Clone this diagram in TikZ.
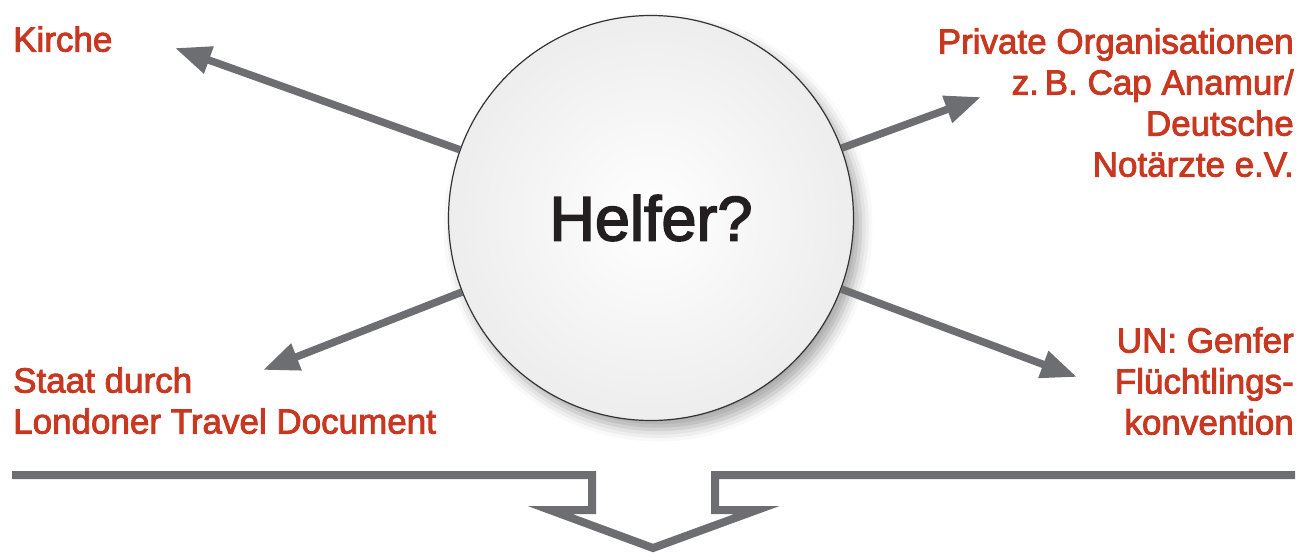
\documentclass[tikz,border=0pt]{standalone}
\usepackage{fontspec}
\setmainfont{Liberation Sans}
\newfontfamily\medfont{Liberation Sans}[FakeBold=2.5]
\usetikzlibrary{arrows.meta,shadows.blur}
\definecolor{helfergray}{RGB}{109,110,113}
\definecolor{helferred}{RGB}{200,55,32}
\definecolor{helferblack}{RGB}{35,31,32}

\begin{document}
\begin{tikzpicture}[x=1pt,y=-1pt,
  label/.style={text=helferred,inner sep=0pt,font=\medfont\fontsize{35}{41}\selectfont},
  arr/.style={helfergray,line width=7.5pt,-{Triangle[length=36pt,width=27pt]}}]
\useasboundingbox (0,0) rectangle (1315,557);

% Main circle
\node[draw=black!80,line width=1.2pt,circle,minimum size=405pt,inner sep=0pt,
  shading=radial,inner color=white,outer color=black!7,
  blur shadow={shadow xshift=7pt,shadow yshift=-9pt,shadow blur radius=12pt,shadow opacity=35},
  text=helferblack,font=\medfont\fontsize{63}{63}\selectfont] (helfer) at (651,218) {Helfer?};

% Four helpers
\node[label,anchor=north west] (kirche) at (13,26) {Kirche};
\node[label,anchor=north east,align=right] (private) at (1294,28) {Private Organisationen\\z.\,B. Cap Anamur/\\Deutsche\\Notärzte e.V.};
\node[label,anchor=north west,align=left] (staat) at (13,367) {Staat durch\\Londoner Travel Document};
\node[label,anchor=north east,align=right] (un) at (1294,327) {UN: Genfer\\Flüchtlings-\\konvention};

% Arrow tips
\coordinate (kirchetip) at (175,48);
\coordinate (privatetip) at (981,97);
\coordinate (staattip) at (263,370);
\coordinate (untip) at (1077,377);

% Connection lines
\draw[arr] (helfer) -- (kirchetip);
\draw[arr] (helfer) -- (privatetip);
\draw[arr] (helfer) -- (staattip);
\draw[arr] (helfer) -- (untip);

% Bottom bracket
\draw[helfergray,line width=8pt,miter limit=20]
  (12,475) -- (592,475) -- (592,510) -- (550,510) -- (653,548)
  -- (757,510) -- (715,510) -- (715,475) -- (1295,475);
\end{tikzpicture}
\end{document}
